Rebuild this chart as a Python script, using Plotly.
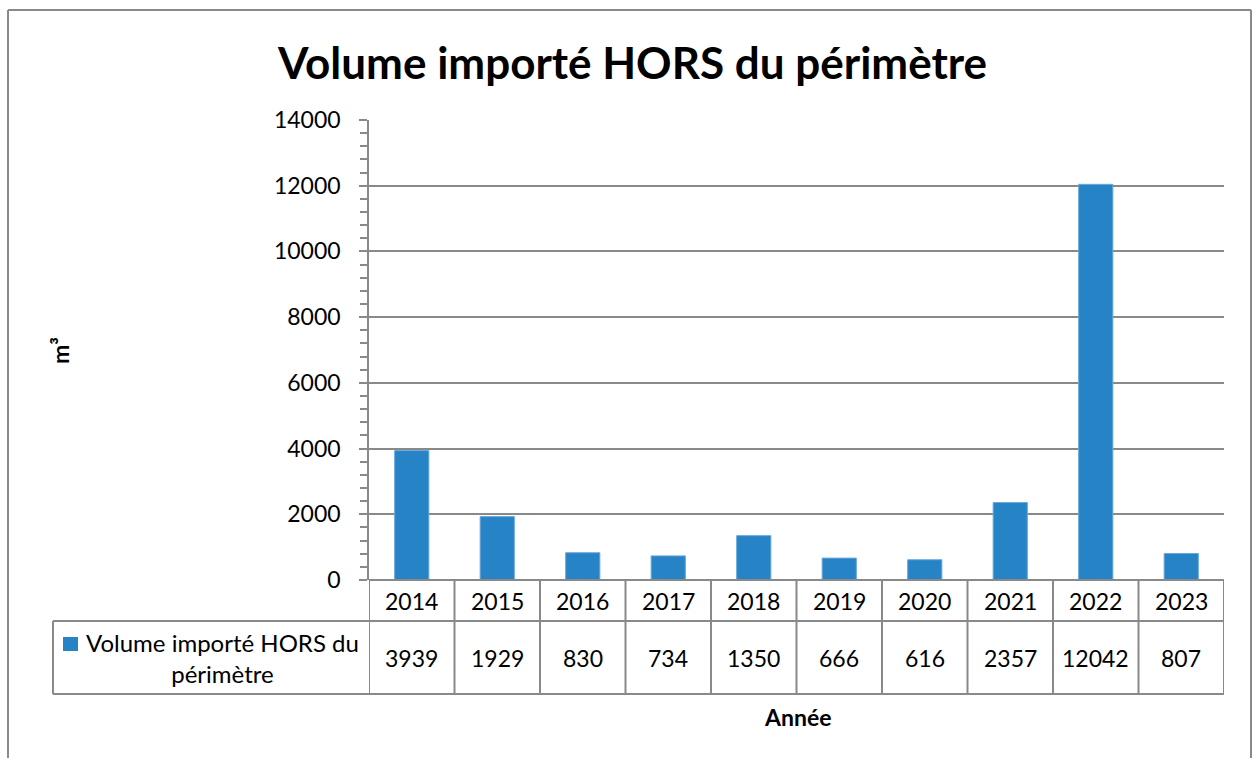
import plotly.graph_objects as go

annees = ["2014", "2015", "2016", "2017", "2018", "2019", "2020", "2021", "2022", "2023"]
volumes = [3939, 1929, 830, 734, 1350, 666, 616, 2357, 12042, 807]
serie_nom = "Volume importé HORS du<br>périmètre"
titre = "Volume importé HORS du périmètre"

W, H = 1253, 758
FONT = "Lato"
GRIS = "#898989"
BLEU = "#2683C6"


def px(x):
    return x / W


def py(y):
    return 1 - y / H


fig = go.Figure()

fig.add_trace(go.Bar(
    x=annees, y=volumes, name="Volume importé HORS du périmètre",
    marker=dict(color=BLEU, line=dict(color="#6aa8dc", width=1)),
    showlegend=False, hoverinfo="x+y",
))

shapes = []
annotations = []

# cadre extérieur du graphique
shapes.append(dict(type="line", xref="paper", yref="paper", x0=px(8), x1=px(1251), y0=py(10), y1=py(10),
                   line=dict(color=GRIS, width=2)))
shapes.append(dict(type="line", xref="paper", yref="paper", x0=px(8), x1=px(8), y0=py(10), y1=0,
                   line=dict(color=GRIS, width=2)))
shapes.append(dict(type="line", xref="paper", yref="paper", x0=px(1251), x1=px(1251), y0=py(10), y1=0,
                   line=dict(color=GRIS, width=2)))

# tableau de données sous le graphique
y_top, y_mid, y_bot = py(580), py(621), py(694)
shapes.append(dict(type="line", xref="x", yref="paper", x0=-0.5, x1=len(annees) - 0.5, y0=y_top, y1=y_top,
                   line=dict(color=GRIS, width=2)))
shapes.append(dict(type="line", xref="paper", yref="paper", x0=px(53), x1=px(1224), y0=y_mid, y1=y_mid,
                   line=dict(color=GRIS, width=2)))
shapes.append(dict(type="line", xref="paper", yref="paper", x0=px(53), x1=px(1224), y0=y_bot, y1=y_bot,
                   line=dict(color=GRIS, width=2)))
shapes.append(dict(type="line", xref="paper", yref="paper", x0=px(53), x1=px(53), y0=y_mid, y1=y_bot,
                   line=dict(color=GRIS, width=2)))
for i in range(len(annees) + 1):
    shapes.append(dict(type="line", xref="x", yref="paper", x0=i - 0.5, x1=i - 0.5, y0=y_top, y1=y_bot,
                       line=dict(color=GRIS, width=2)))

for i, (a, v) in enumerate(zip(annees, volumes)):
    annotations.append(dict(x=i, xref="x", y=(y_top + y_mid) / 2, yref="paper", text=a, showarrow=False,
                            xanchor="center", yanchor="middle",
                            font=dict(family=FONT, size=23, color="black")))
    annotations.append(dict(x=i, xref="x", y=(y_mid + y_bot) / 2, yref="paper", text=str(v), showarrow=False,
                            xanchor="center", yanchor="middle",
                            font=dict(family=FONT, size=23, color="black")))

# légende dans le tableau
shapes.append(dict(type="rect", xref="paper", yref="paper", x0=px(63), x1=px(78), y0=py(637), y1=py(651),
                   fillcolor=BLEU, line=dict(width=0)))
annotations.append(dict(x=px(222), xref="paper", y=(y_mid + y_bot) / 2, yref="paper", text=serie_nom,
                        showarrow=False, align="center", xanchor="center", yanchor="middle",
                        font=dict(family=FONT, size=24, color="black")))

# titres
annotations.append(dict(x=px(632), xref="paper", y=py(62), yref="paper", text="<b>" + titre + "</b>",
                        showarrow=False, xanchor="center", yanchor="middle",
                        font=dict(family=FONT, size=44, color="black")))
annotations.append(dict(x=px(797), xref="paper", y=py(717), yref="paper", text="<b>Année</b>",
                        showarrow=False, xanchor="center", yanchor="middle",
                        font=dict(family=FONT, size=23, color="black")))
annotations.append(dict(x=px(60), xref="paper", y=py(351), yref="paper", text="<b>m³</b>", textangle=-90,
                        showarrow=False, xanchor="center", yanchor="middle",
                        font=dict(family=FONT, size=23, color="black")))

fig.update_layout(
    width=W, height=H,
    margin=dict(l=0, r=0, t=0, b=0, autoexpand=False),
    paper_bgcolor="white", plot_bgcolor="white",
    bargap=0.6,
    shapes=shapes, annotations=annotations,
    xaxis=dict(domain=[px(369), px(1224)], type="category", range=[-0.5, len(annees) - 0.5],
               showticklabels=False, ticks="", showline=False, showgrid=False, zeroline=False,
               automargin=False),
    yaxis=dict(domain=[py(580), py(120)], range=[0, 14000], dtick=2000, tickformat="d",
               showgrid=True, gridcolor=GRIS, gridwidth=1.5, zeroline=False,
               showline=True, linecolor=GRIS, linewidth=1.5,
               ticks="outside", ticklen=8, tickcolor=GRIS, tickwidth=1.5,
               ticklabelstandoff=14, automargin=False,
               minor=dict(dtick=400, ticks="outside", ticklen=7, tickcolor=GRIS, tickwidth=1.5, showgrid=False),
               tickfont=dict(family=FONT, size=23, color="black")),
    yaxis3=dict(overlaying="y", anchor="x", side="left", range=[0, 14000], dtick=2000,
                showgrid=False, zeroline=False, showticklabels=False, ticks="", automargin=False,
                minor=dict(dtick=400, ticks="inside", ticklen=7, tickcolor=GRIS, tickwidth=1.5, showgrid=False)),
)

# pas de marge de page autour du graphique, pas de barre d'outils
fig.write_html("out.html", config={"displayModeBar": False},
               post_script="document.body.style.margin='0';document.body.style.overflow='hidden';")
